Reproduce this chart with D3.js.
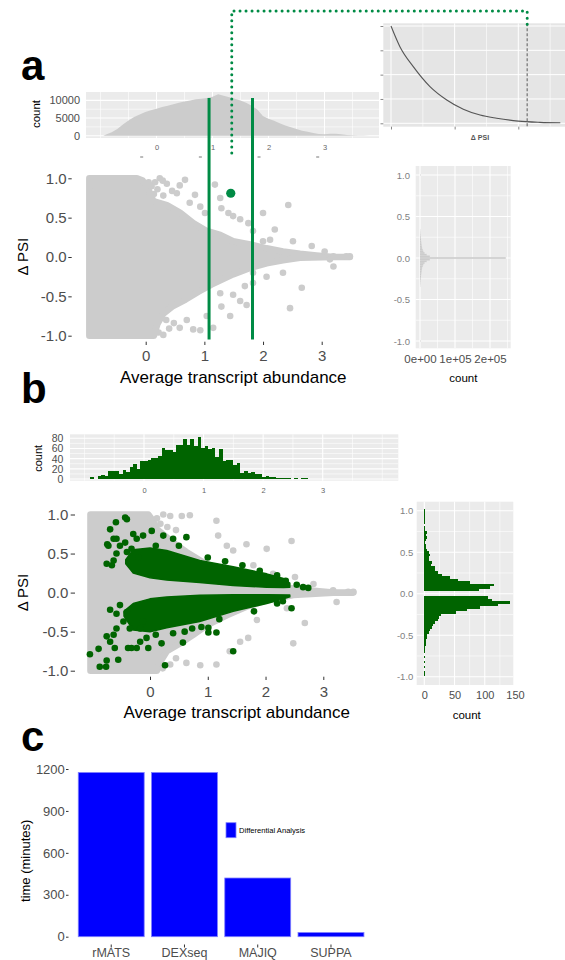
<!DOCTYPE html>
<html>
<head>
<meta charset="utf-8">
<script src="https://cdn.jsdelivr.net/npm/d3@7"></script>
<style>
  body { margin: 0; background: #fff; }
  svg { display: block; font-family: "Liberation Sans", Arial, Helvetica, sans-serif; }
</style>
</head>
<body>
<svg id="fig" width="565" height="960"></svg>
<script>
// ---------------- data ----------------
const psiTicks = [-1, -0.5, 0, 0.5, 1];
const abundTicks = [0, 1, 2, 3];

// panel a: histogram of average abundance (bin centre, count)
const abundA_x = [-0.95,-0.9,-0.8,-0.7,-0.6,-0.5,-0.4,-0.3,-0.2,-0.1,0.0,0.1,0.2,0.3,0.4,0.5,0.6,0.7,0.8,0.9,1.0,1.1,1.2,1.3,1.4,1.5,1.6,1.7,1.8,1.9,2.0,2.1,2.2,2.3,2.4,2.5,2.6,2.7,2.8,2.9,3.0,3.1,3.2,3.3,3.4,3.5,3.6,3.7,3.8];
const abundA_n = [0,350,950,1900,3200,4300,5300,6000,6700,7200,7600,8100,8500,8900,9300,9700,10000,10300,10500,10700,11000,11750,11300,10900,10500,10000,9300,8500,7400,5600,4800,4200,3500,2900,2400,1900,1400,1100,750,500,420,520,560,400,200,120,80,40,0];
const abundA_yTicks = [0, 5000, 10000];

// panel a inset: decay curve and cutoff
const decay_x = [0,0.07,0.175,0.306,0.438,0.568,0.7,0.83,1.0,1.17,1.33];
const decay_y = [4.0,3.15,2.33,1.51,0.96,0.58,0.34,0.21,0.09,0.04,0.02];
const decayCut = 1.07;

// panel a scatter: outline of the dense cloud, isolated points, cut lines, picked point
const greyA_top = [[-0.96,1.0],[-0.15,1.0],[-0.05,0.97],[0.05,0.85],[0.13,0.71],[0.36,0.66],[0.59,0.56],[0.81,0.43],[1.04,0.33],[1.27,0.28],[1.49,0.2],[1.78,0.16],[2.06,0.11],[2.34,0.07],[2.63,0.04],[2.91,0.02],[3.2,0.0],[3.48,0.0]];
const greyA_bottom = [[-0.96,-1.0],[0.14,-1.0],[0.2,-0.85],[0.3,-0.72],[0.45,-0.63],[0.68,-0.54],[0.9,-0.44],[1.12,-0.35],[1.49,-0.22],[1.78,-0.14],[2.06,-0.08],[2.34,-0.04],[2.63,-0.01],[3.2,0.0],[3.48,0.0]];
const greyA_pts = [[0.24,1.0],[0.36,0.93],[0.58,0.91],[0.29,0.97],[0.67,0.98],[1.18,0.92],[1.27,0.75],[1.29,0.62],[1.41,0.56],[1.49,0.52],[1.61,0.48],[1.75,0.43],[1.83,0.33],[2.0,0.56],[2.2,0.35],[2.12,0.22],[2.0,0.2],[2.43,0.66],[2.51,0.2],[2.83,0.14],[0.84,0.79],[0.75,0.69],[0.53,0.81],[0.93,0.64],[1.01,0.56],[3.2,0.01],[3.42,0.01],[3.48,0.01],[3.05,0.07],[3.14,-0.03],
  [0.05,0.95],[0.1,0.9],[0.16,0.95],[0.2,0.86],[0.45,0.84],[0.14,0.8],[0.3,0.78],
  [0.81,-0.92],[0.93,-0.93],[1.15,-0.9],[1.44,-0.75],[1.29,-0.63],[1.61,-0.56],[1.72,-0.61],[1.49,-0.48],[1.69,-0.37],[1.83,-0.33],[1.83,-0.2],[2.34,-0.2],[2.66,-0.39],[2.46,-0.65],[3.2,-0.12],[0.58,-0.9],[0.7,-0.8],[1.04,-0.75],[1.27,-0.46],[2.06,-0.25],
  [0.22,-0.96],[0.3,-0.99],[0.4,-0.91],[0.48,-0.84],[0.35,-0.8]];
const cutA = [1.08, 1.82];
const pickA = [1.45, 0.81];

// panel a right: Delta PSI histogram (bin centre, count)
const margA_psi = [-1.0,-0.34,-0.32,-0.30,-0.28,-0.26,-0.24,-0.22,-0.20,-0.18,-0.16,-0.14,-0.12,-0.10,-0.08,-0.06,-0.04,-0.02,0.00,0.02,0.04,0.06,0.08,0.10,0.12,0.14,0.16,0.18,0.20,0.22,0.24,0.26,0.28,0.30,0.32,0.34,1.0];
const margA_n = [1500,700,1000,1300,1700,2100,2500,2900,3400,3900,4500,5200,6000,7700,9500,13000,19000,28000,245000,28000,19000,13000,9500,7700,6000,5200,4500,3900,3400,2900,2500,2100,1700,1300,1000,700,1500];
const margA_binW = 0.02;
const margA_ticks = [0, 100000, 200000];

// panel b: histogram of abundance of significant events
const histB_start = -0.9, histB_binW = 0.06;
const histB_n = [4,0,6,7,5,15,15,15,10,17,14,23,29,20,35,35,38,42,42,46,60,57,57,53,66,66,78,67,79,64,83,60,64,58,60,44,58,36,38,37,28,32,12,16,11,13,10,10,4,5,4,3,2,1,1,1,0,1,0,1,1];
const histB_yTicks = [0, 20, 40, 60, 80];

// panel b scatter
const greyB_top = [[-1.03,1.0],[-0.03,1.0],[0.05,0.92],[0.12,0.81],[0.4,0.64],[0.63,0.52],[0.87,0.41],[1.15,0.3],[1.44,0.23],[1.79,0.16],[2.13,0.09],[2.6,0.04],[3.17,0.0],[3.52,0.0]];
const greyB_bottom = [[-1.03,-1.0],[0.12,-1.0],[0.2,-0.86],[0.29,-0.75],[0.52,-0.65],[0.75,-0.54],[0.98,-0.42],[1.33,-0.29],[1.67,-0.18],[2.02,-0.1],[2.48,-0.03],[3.17,0.0],[3.52,0.0]];
const greyB_pts = [[0.23,1.0],[0.35,0.98],[0.55,0.98],[0.69,0.99],[1.15,0.92],[1.18,0.73],[1.33,0.6],[1.44,0.54],[1.67,0.62],[1.79,0.35],[2.02,0.56],[2.13,0.24],[2.45,0.66],[2.51,0.2],[2.83,0.11],[3.17,0.03],[3.43,0.01],[3.52,0.01],[3.23,-0.12],[2.68,-0.39],[2.48,-0.65],[1.7,-0.58],[1.56,-0.63],[1.38,-0.75],[1.15,-0.92],[0.87,-0.93],[0.63,-0.9],[1.85,-0.35],[2.37,-0.2],
  [0.12,0.95],[0.18,0.88],[0.3,0.84],[0.45,0.8],[0.22,-0.97],[0.35,-0.92],[0.45,-0.84]];
const sigUp_hi = [[-0.42,0.42],[-0.29,0.55],[0.0,0.57],[0.29,0.54],[0.86,0.41],[1.44,0.33],[2.02,0.24],[2.31,0.18],[2.42,0.12]];
const sigUp_lo = [[-0.42,0.37],[-0.29,0.25],[0.0,0.19],[0.29,0.16],[0.86,0.13],[1.44,0.09],[2.02,0.07],[2.31,0.065],[2.42,0.07]];
const sigDn_hi = [[-0.45,-0.24],[-0.29,-0.14],[0.0,-0.08],[0.29,-0.055],[0.86,-0.034],[1.44,-0.026],[2.02,-0.026],[2.42,-0.03]];
const sigDn_lo = [[-0.45,-0.3],[-0.29,-0.48],[0.0,-0.5],[0.29,-0.45],[0.86,-0.37],[1.44,-0.24],[2.02,-0.14],[2.31,-0.08],[2.42,-0.055]];
const sigB_pts = [[-1.04,-0.79],[-0.89,-0.72],[-0.87,-0.95],[-0.76,-0.95],[-0.75,-0.87],[-0.69,-0.63],[-0.75,-0.56],[-0.63,-0.54],[-0.61,-0.71],[-0.58,-0.46],[-0.55,-0.86],[-0.69,-0.22],[-0.58,-0.27],
  [-0.75,0.37],[-0.66,0.35],[-0.63,0.41],[-0.74,0.62],[-0.72,0.6],[-0.63,0.69],[-0.58,0.69],[-0.69,0.81],[-0.59,0.9],[-0.43,0.96],[-0.4,0.94],[-0.58,0.5],[-0.52,0.6],[-0.43,0.64],[-0.4,0.52],[-0.32,0.56],[-0.23,0.69],[-0.29,0.75],[-0.12,0.73],[0.03,0.79],[0.23,0.73],[0.4,0.69],[0.63,0.71],
  [-0.38,-0.71],[-0.32,-0.71],[-0.23,-0.71],[-0.17,-0.63],[-0.06,-0.58],[-0.03,-0.71],[-0.17,-0.46],[-0.12,-0.37],[0.2,-0.65],[0.26,-0.93],[0.57,-0.64],[0.73,-0.46],[0.89,-0.44],[1.01,-0.45],[1.01,-0.51],[1.15,-0.51],[1.44,-0.75],
  [2.54,0.1],[2.65,0.07],[2.74,0.06],[2.45,-0.2],[-0.52,-0.16],[-0.4,-0.25],[-0.46,-0.37],[-0.35,-0.46],
  [0.5,0.6],[1.0,0.45],[1.6,0.35],[2.2,0.22],[0.6,-0.5],[1.2,-0.34],[1.8,-0.24],[2.2,-0.14],[-0.2,0.45],[0.1,0.6],[0.1,-0.54],[0.4,-0.52],[1.9,0.28],[1.3,0.4],[2.35,0.15],[2.3,-0.11]];

// panel b right: Delta PSI of significant events
const margB_start = -0.99, margB_binW = 0.03;
const margB_n = [1,1,0,1,0,1,0,1,0,1, 1,1,2,2,3,4,5,8,9,12, 14,18,23,25,27,52,70,92,122,142, 112,105,0,0,90,108,116,76,56,42, 30,23,18,18,11,12,8,7,9,8, 5,2,2,1,3,5,2,4,1,1, 0,1,1,1,1,1,1];
const margB_ticks = [0, 50, 100, 150];

// panel c: run time
const tools = ['rMATS', 'DEXseq', 'MAJIQ', 'SUPPA'];
const minutes = [1175, 1175, 420, 30];
const timeTicks = [0, 300, 600, 900, 1200];

// ---------------- helpers ----------------
const svg = d3.select('#fig');
const BG = '#EBEBEB', GREY = '#CCCCCC', GREEN = '#008B45', DKGREEN = '#006400', BLUE = '#0000FF';

function bg(x0, y0, x1, y1, fill) {
  svg.append('rect').attr('x', x0).attr('y', y0).attr('width', x1 - x0).attr('height', y1 - y0).attr('fill', fill || BG);
}
function vlines(sc, vals, y0, y1, w) {
  svg.append('g').selectAll('line').data(vals).join('line')
    .attr('x1', d => sc(d)).attr('x2', d => sc(d)).attr('y1', y0).attr('y2', y1)
    .attr('stroke', '#fff').attr('stroke-width', w);
}
function hlines(sc, vals, x0, x1, w) {
  svg.append('g').selectAll('line').data(vals).join('line')
    .attr('y1', d => sc(d)).attr('y2', d => sc(d)).attr('x1', x0).attr('x2', x1)
    .attr('stroke', '#fff').attr('stroke-width', w);
}
function styleAxis(g, size, fill, tick) {
  g.attr('font-family', null).attr('font-size', null);
  g.select('.domain').remove();
  g.selectAll('.tick text').attr('font-size', size).attr('fill', fill);
  g.selectAll('.tick line').attr('stroke', tick || '#333');
}
function title(x, y, s, size, rot) {
  return svg.append('text')
    .attr('transform', `translate(${x},${y})` + (rot ? ' rotate(-90)' : ''))
    .attr('text-anchor', 'middle').attr('font-size', size).attr('fill', '#000').text(s);
}
const fmt1 = d => d.toFixed(1);
const fmtInt = d => String(d);
const fmtSci = d => d === 0 ? '0e+00' : (d / 1e5) + 'e+05';

// ---------------- panel a : top histogram ----------------
const hxA = d3.scaleLinear().domain([0, 3]).range([156.5, 324.5]);
const hyA = d3.scaleLinear().domain([0, 10000]).range([135.7, 100.4]);
bg(86, 92, 379, 138);
vlines(hxA, [-1, -0.5, 0.5, 1.5, 2.5, 3.5], 92, 138, 0.6);
vlines(hxA, abundTicks, 92, 138, 1.1);
hlines(hyA, [2500, 7500], 86, 379, 0.6);
hlines(hyA, abundA_yTicks, 86, 379, 1.1);
svg.append('path')
  .datum(abundA_x.map((x, i) => [x, abundA_n[i]]))
  .attr('fill', GREY)
  .attr('d', d3.area().x(d => hxA(d[0])).y0(hyA(0)).y1(d => hyA(d[1])));
svg.append('g').attr('transform', 'translate(0,138)')
  .call(d3.axisBottom(hxA).tickValues(abundTicks).tickFormat(fmtInt).tickSize(0).tickPadding(6.3))
  .call(g => styleAxis(g, 7.5, '#666'));
svg.append('g').attr('transform', 'translate(86,0)')
  .call(d3.axisLeft(hyA).tickValues(abundA_yTicks).tickFormat(fmtInt).tickSize(0).tickPadding(6))
  .call(g => styleAxis(g, 11, '#4D4D4D'));
title(39.5, 114, 'count', 11.5, true);

// ---------------- panel a : inset ----------------
const ixS = d3.scaleLinear().domain([0, 1]).range([391, 518.3]);
const iyS = d3.scaleLinear().domain([0, 4]).range([123.3, 26]);
bg(383.3, 23.3, 565, 126.7, '#E5E5E5');
vlines(ixS, [0.25, 0.75, 1.25], 23.3, 126.7, 0.6);
vlines(ixS, [0, 0.5, 1], 23.3, 126.7, 1);
hlines(iyS, [0, 1, 2, 3, 4], 383.3, 565, 1);
svg.append('g').attr('transform', 'translate(383.3,0)')
  .call(d3.axisLeft(iyS).tickValues([0, 1, 2, 3, 4]).tickSize(2.8).tickFormat(''))
  .call(g => styleAxis(g, 7, '#666', '#888'));
svg.append('g').attr('transform', 'translate(0,126.7)')
  .call(d3.axisBottom(ixS).tickValues([0, 0.5, 1]).tickSize(2.8).tickFormat(''))
  .call(g => styleAxis(g, 7, '#666', '#888'));
svg.append('path')
  .datum(decay_x.map((x, i) => [x, decay_y[i]]))
  .attr('fill', 'none').attr('stroke', '#555').attr('stroke-width', 1.1)
  .attr('d', d3.line().x(d => ixS(d[0])).y(d => iyS(d[1])).curve(d3.curveMonotoneX));
svg.append('line')
  .attr('x1', ixS(decayCut)).attr('x2', ixS(decayCut)).attr('y1', 23.3).attr('y2', 126.7)
  .attr('stroke', '#888').attr('stroke-width', 1.5).attr('stroke-dasharray', '3,2');
svg.append('text').attr('x', 480).attr('y', 139.8).attr('text-anchor', 'middle')
  .attr('font-size', 7).attr('font-weight', 'bold').attr('fill', '#555').text('Δ PSI');

// ---------------- panel a : scatter ----------------
const xA = d3.scaleLinear().domain([0, 3]).range([145.7, 321.7]);
const yA = d3.scaleLinear().domain([-1, 1]).range([335.7, 178.3]);
const lineA = d3.line().x(d => xA(d[0])).y(d => yA(d[1]));
svg.append('path')
  .attr('d', lineA(greyA_top.concat(greyA_bottom.slice().reverse())) + 'Z')
  .attr('fill', GREY).attr('stroke', GREY).attr('stroke-width', 6.6).attr('stroke-linejoin', 'round');
svg.append('g').selectAll('circle').data(greyA_pts).join('circle')
  .attr('cx', d => xA(d[0])).attr('cy', d => yA(d[1])).attr('r', 3.3).attr('fill', GREY);

svg.append('g').attr('transform', 'translate(71.7,0)')
  .call(d3.axisLeft(yA).tickValues(psiTicks).tickFormat(fmt1).tickSize(3.4).tickPadding(1.6))
  .call(g => styleAxis(g, 15, '#4D4D4D'));
svg.append('g').attr('transform', 'translate(0,341.7)')
  .call(d3.axisBottom(xA).tickValues(abundTicks).tickFormat(fmtInt).tickSize(3.3).tickPadding(5.7))
  .call(g => styleAxis(g, 15, '#4D4D4D'));
title(28.3, 256.7, 'Δ PSI', 15, true);
title(233.3, 382.7, 'Average transcript abundance', 17);

// stray tick marks under the top histogram
svg.append('g').selectAll('line').data(abundTicks).join('line')
  .attr('x1', d => xA(d) - 5.5).attr('x2', d => xA(d) - 2.5).attr('y1', 157).attr('y2', 157)
  .attr('stroke', '#777').attr('stroke-width', 1);

// cut lines and picked event
svg.append('g').selectAll('line').data(cutA).join('line')
  .attr('x1', d => xA(d)).attr('x2', d => xA(d)).attr('y1', 98).attr('y2', 339.5)
  .attr('stroke', GREEN).attr('stroke-width', 3);
svg.append('circle').attr('cx', xA(pickA[0])).attr('cy', yA(pickA[1])).attr('r', 4.6).attr('fill', GREEN);

// ---------------- panel a : right marginal ----------------
const mxA = d3.scaleLinear().domain([0, 200000]).range([420, 490]);
const myA = d3.scaleLinear().domain([-1, 1]).range([341, 175]);
bg(415.7, 166, 510.7, 348.3);
vlines(mxA, [50000, 150000, 250000], 166, 348.3, 0.6);
vlines(mxA, margA_ticks, 166, 348.3, 1.1);
hlines(myA, [-0.75, -0.25, 0.25, 0.75], 415.7, 510.7, 0.6);
hlines(myA, psiTicks, 415.7, 510.7, 1.1);
svg.append('g').selectAll('rect').data(margA_psi.map((p, i) => [p, margA_n[i]])).join('rect')
  .attr('x', mxA(0)).attr('width', d => mxA(d[1]) - mxA(0))
  .attr('y', d => myA(d[0] + margA_binW / 2)).attr('height', d => myA(d[0] - margA_binW / 2) - myA(d[0] + margA_binW / 2))
  .attr('fill', GREY);
svg.append('g').attr('transform', 'translate(415.7,0)')
  .call(d3.axisLeft(myA).tickValues(psiTicks).tickFormat(fmt1).tickSize(0).tickPadding(5.7))
  .call(g => styleAxis(g, 9.5, '#7F7F7F'));
svg.append('g').attr('transform', 'translate(0,348.3)')
  .call(d3.axisBottom(mxA).tickValues(margA_ticks).tickFormat(fmtSci).tickSize(0).tickPadding(6.8))
  .call(g => styleAxis(g, 11.5, '#4D4D4D'));
title(463.3, 382, 'count', 11.5);

// ---------------- panel b : top histogram ----------------
const hxB = d3.scaleLinear().domain([0, 3]).range([144, 322.7]);
const hyB = d3.scaleLinear().domain([0, 80]).range([479, 438.3]);
bg(70, 434.3, 398.3, 480.7);
vlines(hxB, [-1, -0.5, 0.5, 1.5, 2.5, 3.5, 4], 434.3, 480.7, 0.6);
vlines(hxB, abundTicks, 434.3, 480.7, 1.1);
hlines(hyB, [10, 30, 50, 70], 70, 398.3, 0.6);
hlines(hyB, histB_yTicks, 70, 398.3, 1.1);
svg.append('g').attr('shape-rendering', 'crispEdges').selectAll('rect').data(histB_n).join('rect')
  .attr('x', (d, i) => hxB(histB_start + i * histB_binW))
  .attr('width', hxB(histB_binW) - hxB(0))
  .attr('y', d => hyB(d)).attr('height', d => hyB(0) - hyB(d))
  .attr('fill', DKGREEN);
svg.append('g').attr('transform', 'translate(0,480.7)')
  .call(d3.axisBottom(hxB).tickValues(abundTicks).tickFormat(fmtInt).tickSize(0).tickPadding(6.6))
  .call(g => styleAxis(g, 7.5, '#666'));
svg.append('g').attr('transform', 'translate(70,0)')
  .call(d3.axisLeft(hyB).tickValues(histB_yTicks).tickFormat(fmtInt).tickSize(0).tickPadding(6.7))
  .call(g => styleAxis(g, 10.5, '#4D4D4D'));
title(41.5, 458.3, 'count', 11, true);

// ---------------- panel b : scatter ----------------
const xB = d3.scaleLinear().domain([0, 3]).range([150, 323.3]);
const yB = d3.scaleLinear().domain([-1, 1]).range([670.7, 514.5]);
const lineB = d3.line().x(d => xB(d[0])).y(d => yB(d[1]));
svg.append('path')
  .attr('d', lineB(greyB_top.concat(greyB_bottom.slice().reverse())) + 'Z')
  .attr('fill', GREY).attr('stroke', GREY).attr('stroke-width', 6.6).attr('stroke-linejoin', 'round');
svg.append('g').selectAll('circle').data(greyB_pts).join('circle')
  .attr('cx', d => xB(d[0])).attr('cy', d => yB(d[1])).attr('r', 3.3).attr('fill', GREY);
[[sigUp_hi, sigUp_lo], [sigDn_hi, sigDn_lo]].forEach(([hi, lo]) => {
  svg.append('path')
    .attr('d', lineB(hi.concat(lo.slice().reverse())) + 'Z')
    .attr('fill', DKGREEN).attr('stroke', DKGREEN).attr('stroke-width', 1.5).attr('stroke-linejoin', 'round');
});
svg.append('g').selectAll('circle').data(sigB_pts).join('circle')
  .attr('cx', d => xB(d[0])).attr('cy', d => yB(d[1])).attr('r', 3.3).attr('fill', DKGREEN);

svg.append('g').attr('transform', 'translate(75,0)')
  .call(d3.axisLeft(yB).tickValues(psiTicks).tickFormat(fmt1).tickSize(4.3).tickPadding(2.4))
  .call(g => styleAxis(g, 15, '#4D4D4D'));
svg.append('g').attr('transform', 'translate(0,676.7)')
  .call(d3.axisBottom(xB).tickValues(abundTicks).tickFormat(fmtInt).tickSize(3.3).tickPadding(6))
  .call(g => styleAxis(g, 15, '#4D4D4D'));
title(28.3, 592.5, 'Δ PSI', 15, true);
title(236.7, 717.7, 'Average transcript abundance', 17);

// ---------------- panel b : right marginal ----------------
const mxB = d3.scaleLinear().domain([0, 150]).range([424.3, 515]);
const myB = d3.scaleLinear().domain([-1, 1]).range([676.7, 510.7]);
bg(416.7, 501.7, 513.3, 685);
vlines(mxB, [25, 75, 125], 501.7, 685, 0.6);
vlines(mxB, [0, 50, 100], 501.7, 685, 1.1);
hlines(myB, [-0.75, -0.25, 0.25, 0.75], 416.7, 513.3, 0.6);
hlines(myB, psiTicks, 416.7, 513.3, 1.1);
svg.append('g').attr('shape-rendering', 'crispEdges').selectAll('rect').data(margB_n).join('rect')
  .attr('x', mxB(0)).attr('width', d => mxB(d) - mxB(0))
  .attr('y', (d, i) => myB(margB_start + (i + 1) * margB_binW))
  .attr('height', myB(0) - myB(margB_binW))
  .attr('fill', DKGREEN);
svg.append('g').attr('transform', 'translate(416.7,0)')
  .call(d3.axisLeft(myB).tickValues(psiTicks).tickFormat(fmt1).tickSize(0).tickPadding(3.4))
  .call(g => styleAxis(g, 9.5, '#7F7F7F'));
svg.append('g').attr('transform', 'translate(0,685)')
  .call(d3.axisBottom(mxB).tickValues(margB_ticks).tickFormat(fmtInt).tickSize(0).tickPadding(6.1))
  .call(g => styleAxis(g, 11, '#4D4D4D'));
title(466.7, 718.5, 'count', 11.5);

// ---------------- panel c : bars ----------------
const xC = d3.scaleBand().domain(tools).range([74.6, 367.6]).paddingInner(0.1).paddingOuter(0.05);
const yC = d3.scaleLinear().domain([0, 1200]).range([936.7, 769]);
svg.append('g').selectAll('rect').data(tools).join('rect')
  .attr('x', d => xC(d)).attr('width', xC.bandwidth())
  .attr('y', (d, i) => yC(minutes[i])).attr('height', (d, i) => yC(0) - yC(minutes[i]))
  .attr('fill', BLUE).attr('stroke', '#8080FF').attr('stroke-width', 0.8);
svg.append('g').attr('transform', 'translate(68.5,0)')
  .call(d3.axisLeft(yC).tickValues(timeTicks).tickFormat(fmtInt).tickSize(2.5).tickPadding(1.2))
  .call(g => styleAxis(g, 13, '#4D4D4D'));
svg.append('g').attr('transform', 'translate(0,944.5)')
  .call(d3.axisBottom(xC).tickSize(3).tickPadding(0.6))
  .call(g => styleAxis(g, 12.5, '#4D4D4D'));
title(29.5, 860.8, 'time (minutes)', 13, true);
// legend
svg.append('rect').attr('x', 226).attr('y', 822.7).attr('width', 10).attr('height', 15)
  .attr('fill', BLUE).attr('stroke', '#8080FF').attr('stroke-width', 0.8);
svg.append('text').attr('x', 239).attr('y', 833.3).attr('font-size', 7.6).attr('fill', '#000')
  .text('Differential Analysis');

// ---------------- panel letters ----------------
[['a', 80], ['b', 403], ['c', 751]].forEach(([s, y]) => {
  svg.append('text').attr('x', 21).attr('y', y).attr('font-size', 42).attr('font-weight', 'bold')
    .attr('fill', '#000').text(s);
});

// ---------------- dotted link from picked event to inset cutoff ----------------
const px = xA(pickA[0]) + 1;
svg.append('path')
  .attr('d', `M${px},153 V11 H${ixS(decayCut)} V25`)
  .attr('fill', 'none').attr('stroke', GREEN).attr('stroke-width', 3)
  .attr('stroke-linecap', 'round').attr('stroke-dasharray', '0.01,6');
</script>
</body>
</html>
